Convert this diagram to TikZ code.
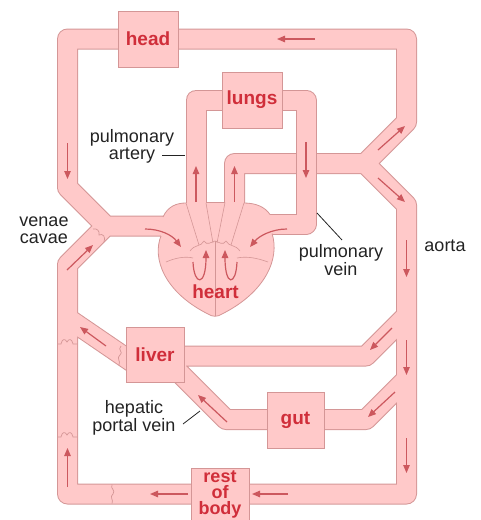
\documentclass[tikz,border=0pt]{standalone}
\usepackage{fontspec}
\setmainfont{Liberation Sans}
\usetikzlibrary{arrows.meta}
\definecolor{vesselpink}{RGB}{255,201,201}
\definecolor{vesselrim}{RGB}{212,150,150}
\definecolor{organred}{RGB}{208,46,58}
\definecolor{flowred}{RGB}{204,88,94}
\definecolor{inkgrey}{RGB}{35,35,35}

\tikzset{
  vessel/.style={draw=vesselpink, line width=19pt, line join=round,
    preaction={draw=vesselrim, line width=21pt, line join=round}},
  organ/.style={draw=vesselrim, line width=0.8pt, fill=vesselpink, inner sep=0pt,
    text=organred, font=\fontsize{19}{16}\selectfont\bfseries, align=center},
  organtext/.style={text=organred, font=\fontsize{19}{16}\selectfont\bfseries,
    align=center, inner sep=0pt},
  flow/.style={draw=flowred, line width=1.2pt, -{Triangle[length=8pt,width=6.5pt]}},
  tag/.style={text=inkgrey, font=\fontsize{18}{16.5}\selectfont, align=center, inner sep=0pt},
  leader/.style={draw=inkgrey, line width=0.8pt},
  valve/.style={draw=vesselrim, line width=0.7pt},
  heartrim/.style={draw=vesselrim, line width=0.8pt},
  heartvein/.style={draw=vesselrim, line width=0.6pt},
}

\begin{document}
\begin{tikzpicture}[x=1pt,y=-1pt]
\useasboundingbox (0,0) rectangle (480,520);

% ---- systemic circulation: aorta, head loop, venae cavae, liver and gut branches
\draw[vessel]
  (234.5,214) -- (234.5,163.5) -- (365,163.5) -- (406.5,122) -- (406.5,39)
    -- (67.5,39) -- (67.5,187.5) -- (106,226) -- (176,226)
  (365,163.5) -- (406.5,205) -- (406.5,494) -- (67.5,494) -- (67.5,264.5) -- (106,226)
  (67.5,318) -- (138,366.2)
  (170,356) -- (366,356) -- (406.5,315.5)
  (406.5,379) -- (366,419.5) -- (226,419.5) -- (170,363.5);

% ---- pulmonary circulation (lies over the aortic arch)
\draw[vessel] (196,214) -- (196,100) -- (306,100) -- (306,224) -- (262,224);

% ---- heart
\path[fill=vesselpink]
  (163,217) .. controls (168,206) and (177,203) .. (186,203)
  -- (206,203) -- (206,202) -- (225,202) -- (244,203)
  .. controls (256,203) and (265,207) .. (270,214.5)
  -- (272,233.5)
  .. controls (280,258) and (266,292) .. (222,314)
  .. controls (218,317) and (212,317) .. (208,314)
  .. controls (164,292) and (152,258) .. (161,236)
  -- cycle;
\draw[heartrim] (163,217) .. controls (168,206) and (177,203) .. (186,203);
\draw[heartrim] (206,202) -- (225,202);
\draw[heartrim] (244,203) .. controls (256,203) and (265,207) .. (270,214.5);
\draw[heartrim] (272,233.5)
  .. controls (280,258) and (266,292) .. (222,314)
  .. controls (218,317) and (212,317) .. (208,314)
  .. controls (164,292) and (152,258) .. (161,236);
% vessel walls running into the chambers, septum and valves
\draw[heartvein] (186,203) -- (199,245);
\draw[heartvein] (206,203) -- (213,243);
\draw[heartvein] (225,202.5) -- (217,243);
\draw[heartvein] (244,203) -- (231,245);
\draw[heartvein] (215,241) -- (215,316);
\draw[heartvein] (190,251) .. controls (195,244) and (201,247) .. (204,241)
  .. controls (207,246) and (211,242) .. (215,241);
\draw[heartvein] (215,241) .. controls (219,242) and (223,246) .. (226,241)
  .. controls (229,247) and (235,244) .. (240,251);
\draw[heartvein] (166,262) .. controls (175,258) and (185,256) .. (193,258);
\draw[heartvein] (237,258) .. controls (247,256) and (257,258) .. (268,262);
\draw[flow] (145,229) .. controls (160,229) and (172,235) .. (181,247);
\draw[flow] (287,229) .. controls (272,229) and (259,236) .. (250,247);
\draw[flow] (193,262) .. controls (194,286) and (206,287) .. (206,250);
\draw[flow] (237,262) .. controls (236,286) and (225,287) .. (225,250);
\node[organtext] (heartText) at (215.5,292) {heart};

% ---- valves in the veins
\draw[valve] (58,344) -- (61,344) .. controls (62,339) and (65,338) .. (67,342)
  .. controls (69,338) and (72,339) .. (73,344) -- (77,344);
\draw[valve] (58,437) -- (61,437) .. controls (62,432) and (65,431) .. (67,435)
  .. controls (69,431) and (72,432) .. (73,437) -- (77,437);
\draw[valve] (112,484.5) .. controls (110,489) and (116,490) .. (113,494)
  .. controls (109,497) and (114,500) .. (112,503.5);
\draw[valve] (121,346) .. controls (117,350) and (124,352) .. (120,355)
  .. controls (116,358) and (121,361) .. (119,365);
\draw[valve] (93,229) .. controls (97,228) and (100,231) .. (99,235)
  .. controls (103,233) and (106,237) .. (104,242);

% ---- organs
\node[organ, minimum width=60pt, minimum height=56pt] (head) at (148,39) {head};
\node[organ, minimum width=60pt, minimum height=56pt] (lungs) at (252,100) {lungs};
\node[organ, minimum width=58pt, minimum height=55pt] (liver) at (155,354.5) {liver};
\node[organ, minimum width=57pt, minimum height=56pt] (gut) at (295.5,420) {gut};
\node[organ, minimum width=58pt, minimum height=66pt] (rest) at (220,501) {};
\node[organtext, font=\fontsize{18}{16}\selectfont\bfseries] (restText) at (220,494.5) {rest\\of\\body};

% ---- direction of flow
\draw[flow] (315,39) -- (277,39);
\draw[flow] (67.5,143) -- (67.5,179);
\draw[flow] (196,202) -- (196,166);
\draw[flow] (234.5,202) -- (234.5,166);
\draw[flow] (306,142) -- (306,178);
\draw[flow] (378,150) -- (405,126);
\draw[flow] (378,178) -- (405,202);
\draw[flow] (406.5,240) -- (406.5,277);
\draw[flow] (392,328) -- (370,350);
\draw[flow] (406.5,340) -- (406.5,375);
\draw[flow] (395,392) -- (368,417);
\draw[flow] (406.5,438) -- (406.5,473);
\draw[flow] (288,494) -- (252,494);
\draw[flow] (188,494) -- (150,494);
\draw[flow] (67.5,487) -- (67.5,448);
\draw[flow] (227,422) -- (198,395);
\draw[flow] (106,346) -- (80,327);
\draw[flow] (67,270) -- (93,245);

% ---- labels
\node[tag] (paLabel) at (132,146.5) {pulmonary\\artery};
\coordinate (paFrom) at (162,155);
\coordinate (paTo) at (185,155);
\draw[leader] (paFrom) -- (paTo);

\node[tag] (vcLabel) at (44,230) {venae\\cavae};
\node[tag] (aoLabel) at (445,246) {aorta};

\node[tag] (pvLabel) at (341,260) {pulmonary\\vein};
\coordinate (pvFrom) at (342,240);
\coordinate (pvTo) at (317,213);
\draw[leader] (pvFrom) -- (pvTo);

\node[tag, font=\fontsize{18}{18.5}\selectfont] (hpLabel) at (134,418) {hepatic\\portal vein};
\coordinate (hpFrom) at (183,424);
\coordinate (hpTo) at (200,411);
\draw[leader] (hpFrom) -- (hpTo);
\end{tikzpicture}
\end{document}
